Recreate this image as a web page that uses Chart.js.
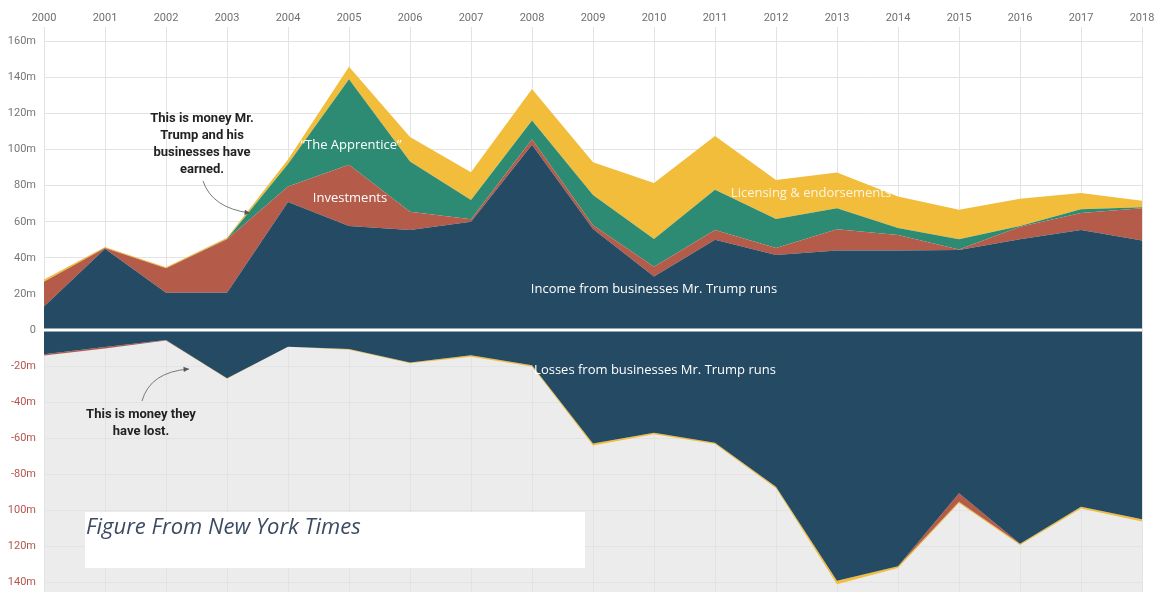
<!DOCTYPE html>
<html>
<head>
<meta charset="utf-8">
<script src="https://cdn.jsdelivr.net/npm/chart.js@4.4.1/dist/chart.umd.min.js"></script>
<style>
  html, body { margin: 0; padding: 0; background: #ffffff; }
  #wrap { width: 1159px; height: 592px; position: relative; }
</style>
</head>
<body>
<div id="wrap"><canvas id="c" width="1159" height="592"></canvas></div>
<script>
// ---- Data (millions of dollars) ----
const years = ['2000','2001','2002','2003','2004','2005','2006','2007','2008','2009','2010','2011','2012','2013','2014','2015','2016','2017','2018'];

const incomeGain     = [13, 45, 20.7, 20.7, 71, 57.7, 55.5, 60, 102.7, 56, 29.6, 50, 41.6, 44, 44, 44.4, 50.3, 55.5, 49.6];
const investGain     = [13.8, 0.5, 13.5, 29.6, 8.5, 33.9, 10.1, 1.4, 3.1, 2, 5.4, 5.5, 3.9, 11.9, 8.7, 0.2, 7, 9.3, 17.9];
const apprenticeGain = [0, 0, 0, 0.2, 12.5, 47.4, 27.8, 10.7, 10.3, 16.9, 15.5, 22.2, 16.1, 11.6, 3.9, 5.7, 0.3, 2.2, 0.6];
const licensingGain  = [1.2, 0.5, 0.6, 0.7, 2.5, 7, 13.6, 15.4, 17.5, 18.1, 31, 29.9, 21.6, 19.8, 17.4, 16.3, 15.2, 8.9, 3.5];

const incomeLoss     = [-13.5, -9.5, -5.5, -26.8, -9.3, -10.5, -18, -14, -19.5, -63, -57, -62.5, -87, -139, -131, -90.5, -118.5, -98, -105];
const investLoss     = [-0.6, -0.8, -0.3, 0, 0, 0, 0, 0, 0, 0, 0, 0, 0, 0, 0, -4.7, 0, 0, 0];
const licensingLoss  = [0, 0, 0, -0.3, 0, -0.5, -0.5, -0.8, -0.8, -1, -0.8, -0.8, -0.8, -2, -1, -0.8, -0.8, -1, -1.2];

const yTickValues = [-140, -120, -100, -80, -60, -40, -20, 0, 20, 40, 60, 80, 100, 120, 140, 160];
const yTickLabels = ['140m', '120m', '100m', '-80m', '-60m', '-40m', '-20m', '0', '20m', '40m', '60m', '80m', '100m', '120m', '140m', '160m'];

// ---- Styles ----
const NAVY = '#254a63', RED = '#b45b4a', TEAL = '#2d8b74', YELLOW = '#f1bd3b';

function area(label, data, color, stack, fill) {
  return { label, data, stack, fill, backgroundColor: color, borderColor: color,
           borderWidth: 0, pointRadius: 0, pointHoverRadius: 0, tension: 0 };
}

const lowerBg = {
  id: 'lowerBg',
  beforeDraw(chart) {
    const { ctx, chartArea } = chart;
    const y0 = chart.scales.y.getPixelForValue(0);
    ctx.save();
    ctx.fillStyle = '#ececec';
    ctx.fillRect(chartArea.left, y0, chartArea.right - chartArea.left, chartArea.bottom - y0);
    ctx.restore();
  }
};

function arrow(ctx, x0, y0, cx, cy, x1, y1) {
  ctx.beginPath();
  ctx.moveTo(x0, y0);
  ctx.quadraticCurveTo(cx, cy, x1, y1);
  ctx.stroke();
  const ang = Math.atan2(y1 - cy, x1 - cx);
  ctx.beginPath();
  ctx.moveTo(x1, y1);
  ctx.lineTo(x1 - 6 * Math.cos(ang - 0.45), y1 - 6 * Math.sin(ang - 0.45));
  ctx.lineTo(x1 - 6 * Math.cos(ang + 0.45), y1 - 6 * Math.sin(ang + 0.45));
  ctx.closePath();
  ctx.fill();
}

const overlay = {
  id: 'overlay',
  afterDatasetsDraw(chart) {
    const { ctx, chartArea } = chart;
    const y0 = chart.scales.y.getPixelForValue(0);
    ctx.save();
    // zero line
    ctx.strokeStyle = '#ffffff';
    ctx.lineWidth = 3;
    ctx.beginPath();
    ctx.moveTo(chartArea.left, y0);
    ctx.lineTo(chartArea.right, y0);
    ctx.stroke();

    // series labels
    ctx.textAlign = 'center';
    ctx.textBaseline = 'middle';
    ctx.font = '13px "Open Sans"';
    ctx.fillStyle = '#ffffff';
    ctx.fillText('\u201CThe Apprentice\u201D', 351, 145);
    ctx.fillText('Investments', 350, 198);
    ctx.fillText('Income from businesses Mr. Trump runs', 654, 289);
    ctx.fillText('Losses from businesses Mr. Trump runs', 655, 370);
    ctx.fillStyle = 'rgba(255,255,255,0.85)';
    ctx.fillText('Licensing & endorsements', 811, 193);

    // annotations
    ctx.fillStyle = '#222222';
    ctx.font = 'bold 13px Roboto';
    ['This is money Mr.', 'Trump and his', 'businesses have', 'earned.'].forEach((t, i) => {
      ctx.fillText(t, 202, 119 + i * 17);
    });
    ['This is money they', 'have lost.'].forEach((t, i) => {
      ctx.fillText(t, 141, 415 + i * 17);
    });

    ctx.strokeStyle = '#7a7a7a';
    ctx.fillStyle = '#555555';
    ctx.lineWidth = 1;
    arrow(ctx, 203, 181, 212, 208, 250, 213);
    arrow(ctx, 142, 401, 150, 372, 189, 369);

    // source box
    ctx.fillStyle = '#ffffff';
    ctx.fillRect(85, 512, 500, 56);
    ctx.fillStyle = '#3b4b63';
    ctx.textAlign = 'left';
    ctx.font = 'italic 22px "Open Sans"';
    ctx.fillText('Figure From New York Times', 86, 528);
    ctx.restore();
  }
};

new Chart(document.getElementById('c'), {
  type: 'line',
  data: {
    labels: years,
    datasets: [
      area('Income from businesses Mr. Trump runs', incomeGain, NAVY, 'gain', 'origin'),
      area('Investments', investGain, RED, 'gain', '-1'),
      area('The Apprentice', apprenticeGain, TEAL, 'gain', '-1'),
      area('Licensing & endorsements', licensingGain, YELLOW, 'gain', '-1'),
      area('Losses from businesses Mr. Trump runs', incomeLoss, NAVY, 'loss', 'origin'),
      area('Investment losses', investLoss, RED, 'loss', '-1'),
      area('Licensing losses', licensingLoss, YELLOW, 'loss', '-1')
    ]
  },
  options: {
    responsive: false,
    animation: false,
    events: [],
    layout: { padding: { left: 0, right: 17, top: 0, bottom: 0 } },
    plugins: { legend: { display: false }, tooltip: { enabled: false } },
    scales: {
      x: {
        position: 'top',
        offset: false,
        border: { display: false },
        grid: { color: '#e3e3e3', drawTicks: false },
        ticks: { color: '#6f6f6f', font: { family: 'Roboto', size: 11 }, padding: 2, maxRotation: 0, autoSkip: false },
        afterFit(s) { s.height = 27; s.paddingLeft = 0; s.paddingRight = 0; }
      },
      y: {
        stacked: true,
        min: -145.3,
        max: 168,
        border: { display: false },
        grid: { color: '#e3e3e3', drawTicks: false },
        afterBuildTicks(s) { s.ticks = yTickValues.map(v => ({ value: v })); },
        ticks: {
          includeBounds: false,
          padding: 8,
          font: { family: 'Roboto', size: 11 },
          color: (c) => (c.tick && c.tick.value < 0) ? '#b5564d' : '#777777',
          callback: (v) => { const i = yTickValues.indexOf(v); return i >= 0 ? yTickLabels[i] : ''; }
        },
        afterFit(s) { s.width = 44; s.paddingTop = 0; s.paddingBottom = 0; }
      }
    }
  },
  plugins: [lowerBg, overlay]
});
</script>
</body>
</html>
